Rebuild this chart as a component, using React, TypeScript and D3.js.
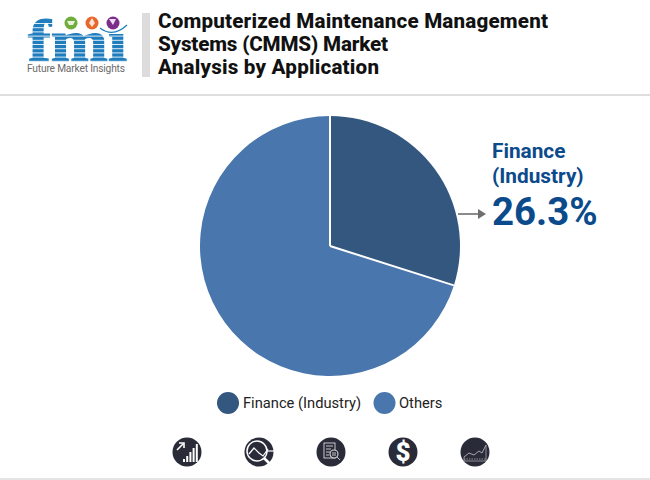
import React from 'react';
import * as d3 from 'd3';

const categories = ['Finance (Industry)', 'Others'];
const sliceShares = [29.9, 70.1]; // as drawn in the picture, not the printed label
const sliceColors = ['#34577F', '#4876AD'];
const titleLines = [
  'Computerized Maintenance Management',
  'Systems (CMMS) Market',
  'Analysis by Application',
];
const titleWidths = [390, 230, 221];
const calloutLines = ['Finance', '(Industry)'];
const calloutValue = '26.3%';
const signalBars = [3, 6, 10, 14, 18];
const trendLine: [number, number][] = [[-10, 2], [-5, -4], [0, 1], [4, 4], [9, -3]];
const areaLine: [number, number][] = [[-11, 5], [-6, 1], [-1, 3], [4, -1], [7, 1], [11, -7]];

const WIDTH = 650;
const HEIGHT = 480;
const RADIUS = 130;
const font = 'Roboto, sans-serif';
const ICON = '#2A2B38';
const LOGO_BLUE = '#1F7DBE';

const pie = d3.pie<number>().sort(null);
const arc = d3.arc<d3.PieArcDatum<number>>().innerRadius(0).outerRadius(RADIUS);
const slices = pie(sliceShares);
const line = d3.line();

const iconX = d3.scalePoint<number>().domain([0, 1, 2, 3, 4]).range([187, 475]);

const GrowthIcon = () => (
  <g>
    {signalBars.map((h, i) => (
      <rect key={i} x={-4 + i * 3.2} y={10 - h} width={2} height={h} fill="#fff" />
    ))}
    <path d={line([[-10, -2], [-4, -8]]) ?? ''} stroke="#fff" strokeWidth={1.6} fill="none" />
    <path d={line([[-8, -9], [-3, -9], [-3, -4]]) ?? ''} stroke="#fff" strokeWidth={1.6} fill="none" />
  </g>
);

const LensIcon = () => (
  <g fill="none" stroke="#fff">
    <circle cx={-2} cy={-1} r={10} strokeWidth={1.5} />
    <path d={line(trendLine) ?? ''} strokeWidth={1.2} />
    <path d="M5,6 L13,14" strokeWidth={2.6} />
    <path d="M8,-1 L15,-1" strokeWidth={1.2} />
  </g>
);

const ReportIcon = () => (
  <g fill="none" stroke="#d8d8dc" strokeWidth={0.9}>
    <rect x={-7} y={-9} width={11} height={15} />
    <path d="M-5,-6 H2 M-5,-3 H0 M-5,0 H-1 M-5,3 H-2" />
    <circle cx={3} cy={2} r={4} fill={ICON} strokeWidth={1.1} />
    <path d="M1,1 H5 M1,3 H5 M6,5 L9,8" />
  </g>
);

const DollarIcon = () => (
  <text textAnchor="middle" y={9} fontFamily={font} fontWeight={900} fontSize={26} fill="#fff">$</text>
);

const AreaIcon = () => (
  <g fill="none" stroke="#a5a6af">
    <path d={line(areaLine) ?? ''} strokeWidth={1} />
    <path d="M-11,5 V9 H11 V-7" strokeWidth={0.8} />
    <path d="M-11,7 H11" strokeWidth={0.8} strokeDasharray="1.5 1" />
  </g>
);

const icons = [GrowthIcon, LensIcon, ReportIcon, DollarIcon, AreaIcon];

const logoStripes = d3.range(23, 63, 4.2);

const Logo = () => (
  <g>
    <text
      x={28}
      y={61}
      fontFamily="'Liberation Serif', serif"
      fontWeight={700}
      fontSize={60}
      textLength={99}
      lengthAdjust="spacingAndGlyphs"
      fill={LOGO_BLUE}
      stroke={LOGO_BLUE}
      strokeWidth={1.2}
    >fmi</text>
    <rect x={100} y={14} width={30} height={20} fill="#fff" />
    {logoStripes.map(y => (
      <rect key={y} x={24} y={y} width={108} height={1} fill="#fff" opacity={0.85} />
    ))}
    <path d="M100,28 Q113,38 127,25" fill="none" stroke={LOGO_BLUE} strokeWidth={1.2} />
    <circle cx={71} cy={23} r={6.5} fill="#6FAE3D" />
    <circle cx={92} cy={23} r={6.5} fill="#E8662A" />
    <circle cx={113} cy={23} r={6.5} fill="#7B2D8B" />
    <path d="M67,21 h8 l-2,4 h-4 z" fill="#e8f2dc" />
    <path d="M92,18 l3,5 l-3,4 l-3,-4 z" fill="#fbe3d6" />
    <path d="M109,19 h7 l-3,6 z" fill="#eedcf2" />
    <text x={27} y={72} fontFamily={font} fontSize={10.2} fill="#6b6b6b" textLength={98}>Future Market Insights</text>
  </g>
);

export default function App() {
  return (
    <svg
      width={WIDTH}
      height={HEIGHT}
      viewBox={`0 0 ${WIDTH} ${HEIGHT}`}
      style={{ position: 'absolute', left: 0, top: 0, background: '#fff' }}
    >
      <Logo />
      <rect x={142} y={13} width={8} height={64} fill="#DCDCDC" />
      {titleLines.map((t, i) => (
        <text key={t} x={158} y={28 + i * 23} fontFamily={font} fontWeight={800} fontSize={20.6} fill="#111" textLength={titleWidths[i]}>{t}</text>
      ))}
      <rect x={0} y={94} width={WIDTH} height={2} fill="#DEDEDE" />

      <g transform="translate(330,246)">
        {slices.map((d, i) => (
          <path key={categories[i]} d={arc(d) ?? ''} fill={sliceColors[i]} />
        ))}
        {slices.map((d, i) => (
          <line
            key={i}
            x1={0}
            y1={0}
            x2={RADIUS * Math.sin(d.startAngle)}
            y2={-RADIUS * Math.cos(d.startAngle)}
            stroke="#fff"
            strokeWidth={2}
          />
        ))}
      </g>

      <path d="M458,214 H478" stroke="#6f6f6f" strokeWidth={1.6} />
      <path d="M486,214 L478,209 V219 Z" fill="#6f6f6f" />
      {calloutLines.map((t, i) => (
        <text key={t} x={492} y={158 + i * 25} fontFamily={font} fontWeight={700} fontSize={20.8} fill="#0B4A8B">{t}</text>
      ))}
      <text x={492} y={225} fontFamily={font} fontWeight={700} fontSize={38.4} fill="#0B4A8B">{calloutValue}</text>

      <circle cx={228} cy={403} r={11} fill={sliceColors[0]} />
      <text x={243} y={408} fontFamily={font} fontSize={14.7} fill="#222">{categories[0]}</text>
      <circle cx={384.5} cy={403} r={11} fill={sliceColors[1]} />
      <text x={399} y={408} fontFamily={font} fontSize={14.7} fill="#222">{categories[1]}</text>

      {icons.map((Icon, i) => (
        <g key={i} transform={`translate(${iconX(i)},452)`}>
          <circle r={14.5} fill={ICON} />
          <Icon />
        </g>
      ))}
      <rect x={0} y={478} width={WIDTH} height={2} fill="#E4E4E4" />
    </svg>
  );
}
